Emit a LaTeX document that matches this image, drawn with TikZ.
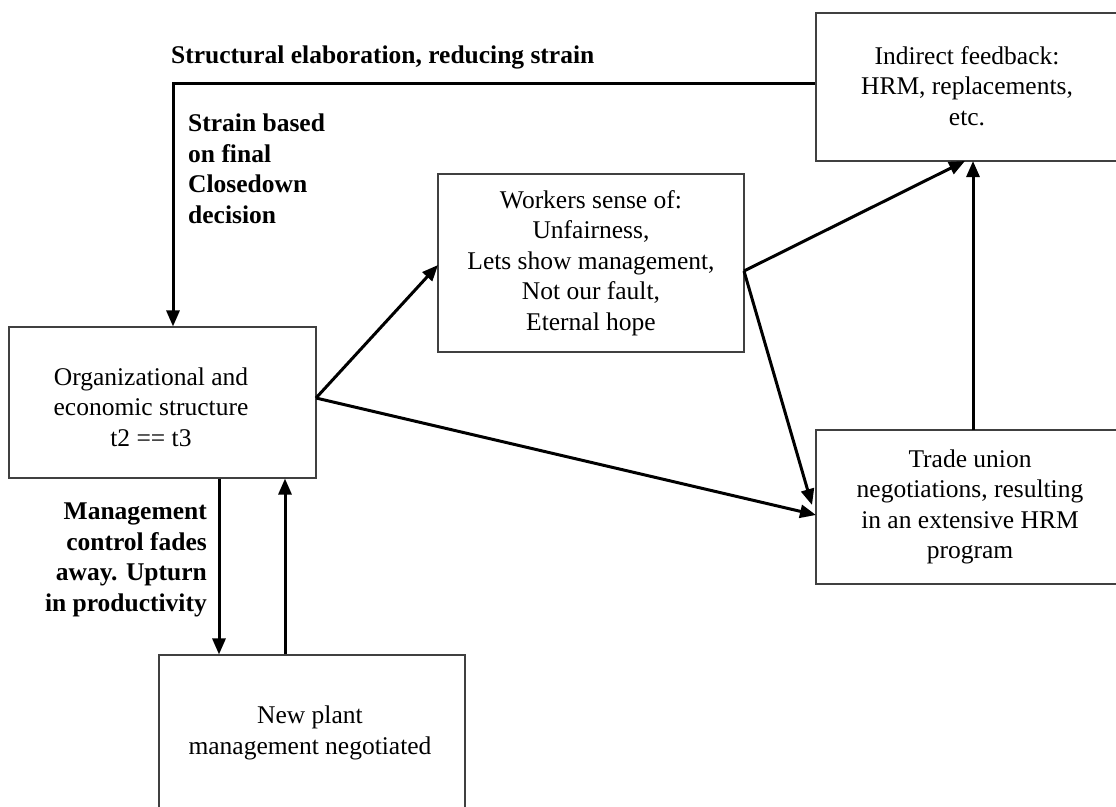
\documentclass[tikz,border=0pt]{standalone}
\usepackage{fontspec}
\setmainfont{Liberation Serif}
\usetikzlibrary{arrows.meta,positioning}

\tikzset{
  box/.style={draw=black!75, line width=1.1pt, rectangle, inner sep=0pt},
  boxtext/.style={align=center, inner sep=0pt, font=\fontsize{25.5}{30.5}\selectfont},
  boldtext/.style={inner sep=0pt, font=\fontsize{25.5}{30.5}\selectfont\bfseries},
  conn/.style={line width=3pt, -{Triangle[length=16pt,width=13pt]}}
}

\begin{document}
\begin{tikzpicture}[x=1pt,y=-1pt]
  \useasboundingbox (0,0) rectangle (1116,806);
  \fill[white] (0,0) rectangle (1116,806);

  % boxes
  \node[box, minimum width=302pt, minimum height=148pt] (ind) at (967,87) {};
  \node[boxtext] at (967,86) {Indirect feedback:\\HRM, replacements,\\etc.};

  \node[box, minimum width=306pt, minimum height=178pt] (wrk) at (591,263) {};
  \node[boxtext] at (591,263) {Workers sense of:\\Unfairness,\\Lets show management,\\Not our fault,\\Eternal hope};

  \node[box, minimum width=307pt, minimum height=151pt] (org) at (162.5,402.5) {};
  \node[boxtext] at (151,407) {Organizational and\\economic structure\\t2 == t3};

  \node[box, minimum width=302pt, minimum height=154pt] (trd) at (967,507) {};
  \node[boxtext] at (970,507) {Trade union\\negotiations, resulting\\in an extensive HRM\\program};

  \node[box, minimum width=306pt, minimum height=157pt] (npm) at (312,733.5) {};
  \node[boxtext] at (310,733) {New plant\\management negotiated};

  % bold labels
  \node[boldtext, anchor=west] (lblstruct) at (171,57) {Structural elaboration, reducing strain};
  \node[boldtext, anchor=west, align=left] (lblstrain) at (188,169) {Strain based\\on final\\Closedown\\decision};
  \node[boldtext, anchor=east, align=right] (lblmgmt) at (207,560) {Management\\control fades\\away. Upturn\\in productivity};

  % helper coordinates for connector ends
  \coordinate (corner) at (173,83);
  \coordinate (orgout) at (316,398);
  \coordinate (wrkout) at (744,271);
  \coordinate (wrkin) at (438,265);
  \coordinate (trdinA) at (812,505);
  \coordinate (trdinB) at (816,515);
  \coordinate (indinA) at (965,161);
  \coordinate (indinB) at (973,161);
  \coordinate (trdtop) at (973,430);
  \coordinate (dnx) at (219,0);
  \coordinate (upx) at (285,0);

  % feedback loop along the top
  \draw[conn] (ind.west |- corner) -- (corner) -- (corner |- org.north);

  % connectors
  \draw[conn] (orgout) -- (wrkin);
  \draw[conn] (orgout) -- (trdinB);
  \draw[conn] (wrkout) -- (trdinA);
  \draw[conn] (wrkout) -- (indinA);
  \draw[conn] (trdtop) -- (indinB);

  \draw[conn] (org.south -| dnx) -- (npm.north -| dnx);
  \draw[conn] (npm.north -| upx) -- (org.south -| upx);
\end{tikzpicture}
\end{document}
